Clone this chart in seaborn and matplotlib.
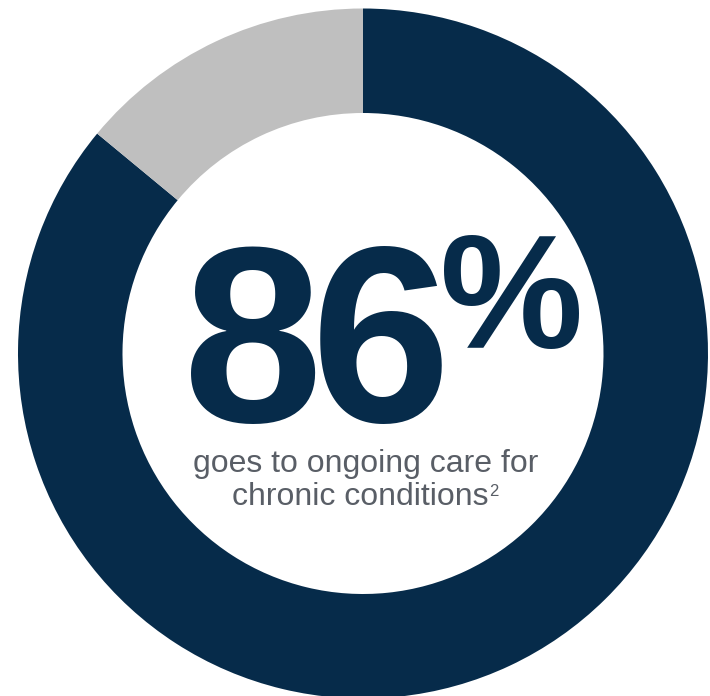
import matplotlib
matplotlib.use("Agg")
import matplotlib.pyplot as plt
import seaborn as sns

# Share of spending
labels = ["Ongoing care for chronic conditions", "Other"]
shares = [86, 14]
headline_digits = ["8", "6"]
caption_lines = ["goes to ongoing care for", "chronic conditions"]
footnote = "2"

sns.set_theme(style="white")
plt.rcParams["font.family"] = ["Liberation Sans", "DejaVu Sans"]
plt.rcParams["mathtext.fontset"] = "custom"
plt.rcParams["mathtext.rm"] = "Liberation Sans"
plt.rcParams["mathtext.bf"] = "Liberation Sans:bold"

navy = "#062B4A"
grey = "#BFBFBF"
text_grey = "#595E66"

W, H = 710, 696
fig = plt.figure(figsize=(W / 100, H / 100), dpi=100)
ax = fig.add_axes([0, 0, 1, 1])

cx, cy = 363, H - 353.5
R_out, R_in = 345, 240.5

ax.pie(shares, colors=[navy, grey], startangle=90, counterclock=False,
       center=(cx, cy), radius=R_out, frame=True,
       wedgeprops=dict(width=R_out - R_in, linewidth=0))
ax.set_xlim(0, W)
ax.set_ylim(0, H)
ax.set_aspect("equal")
ax.axis("off")

# Headline figure, digits set tightly
for x, d in zip([249, 376], headline_digits):
    ax.text(x, H - 422, r"$\mathbf{%s}$" % d, ha="center", va="baseline",
            fontsize=181, color=navy)
ax.text(439, H - 348, r"$\mathbf{\%}$", ha="left", va="baseline",
        fontsize=116, color=navy)

# Caption
ax.text(366, H - 472, caption_lines[0], ha="center", va="baseline",
        fontsize=23, color=text_grey)
line2 = ax.text(360, H - 505, caption_lines[1], ha="center", va="baseline",
                fontsize=23, color=text_grey)
ax.annotate(footnote, xy=(1, 1), xycoords=line2, xytext=(0.5, -1.5),
            textcoords="offset points", ha="left", va="top",
            fontsize=12, color=text_grey)

fig.savefig("out.png", dpi=100)
